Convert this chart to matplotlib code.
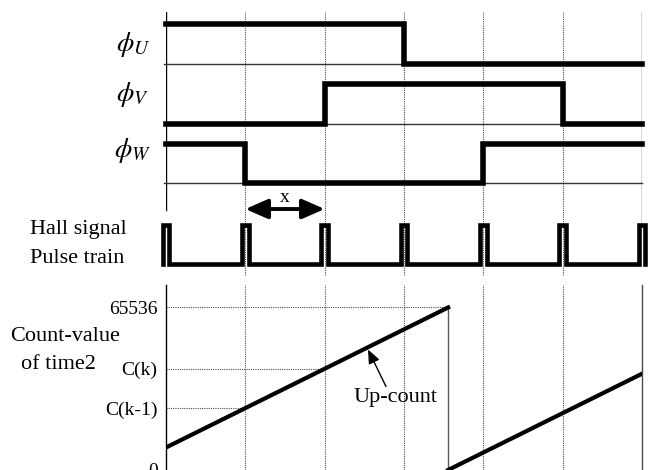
import numpy as np
import matplotlib.pyplot as plt

plt.rcParams['font.family'] = ['Liberation Serif', 'DejaVu Serif']
plt.rcParams['mathtext.fontset'] = 'stix'

# time grid: one unit = one 60-degree sector
sectors = [0, 1, 2, 3, 4, 5, 6]
phase_u = [1, 1, 1, 0, 0, 0]
phase_v = [0, 0, 1, 1, 1, 0]
phase_w = [1, 0, 0, 0, 1, 1]
phase_names = ['$\\phi_U$', '$\\phi_V$', '$\\phi_W$']
lane_low = [2.0, 1.0, 0.0]
high = 0.664
hall_pulses = [0, 1, 2, 3, 4, 5, 6]

# timer2 count
ramp1_t = [0, 3.556]
ramp1_v = [9074, 65536]
ramp2_t = [3.556, 6]
ramp2_v = [0, 38810]
count_ticks = [0, 24952, 40830, 65536]
count_labels = ['0', 'C(k-1)', 'C(k)', '65536']

W, H = 653, 470
def box(x0, y0, x1, y1):
    return [x0 / W, 1 - y1 / H, (x1 - x0) / W, (y1 - y0) / H]

fig = plt.figure(figsize=(W / 100, H / 100), dpi=100)

# ---- phase signals + hall pulse train
ax = fig.add_axes(box(166, 12, 642, 275))
ax.set_xlim(0, 6)
ax.set_ylim(-1.546, 2.874)
ax.axis('off')

dot = dict(color='0.3', lw=0.8, ls=(0, (1, 1)))
for t in sectors[1:-1]:
    ax.plot([t, t], [-1.546, 2.874], zorder=1, clip_on=False, **dot)
ax.plot([0, 0], [-0.454, 2.874], color='k', lw=1)
ax.plot([6, 6], [-0.70, 2.874], color='0.2', lw=1)

for states, low in zip([phase_u, phase_v, phase_w], lane_low):
    ax.plot([-0.03, 6], [low, low], color='0.2', lw=1, clip_on=False)
    y = low + high * np.array(states + [states[-1]])
    ax.step(sectors, y, where='post', color='k', lw=4,
            solid_joinstyle='miter', zorder=3, clip_on=False)

label_y = [2.32, 1.48, 0.55]
for name, yl in zip(phase_names, label_y):
    ax.text(-0.42, yl, name, fontsize=20, ha='center', va='center')

hall_low, hall_high, pw = -1.36, -0.70, 0.042
ht, hy = [], []
for c in hall_pulses:
    ht += [c - pw, c - pw, c + pw, c + pw]
    hy += [hall_low, hall_high, hall_high, hall_low]
ax.plot(ht, hy, color='k', lw=3.3, solid_joinstyle='miter',
        zorder=3, clip_on=False)

ax.annotate('', xy=(1, -0.437), xytext=(2, -0.437),
            arrowprops=dict(arrowstyle='<|-|>,head_length=0.8,head_width=0.35',
                            mutation_scale=17, lw=2.8, color='k',
                            shrinkA=0, shrinkB=0))
ax.text(1.5, -0.25, 'x', fontsize=14, ha='center', va='center')

ax.text(-1.71, -0.86, 'Hall signal', fontsize=16, ha='left', va='baseline')
ax.text(-1.71, -1.35, 'Pulse train', fontsize=16, ha='left', va='baseline')

# ---- counter value
ac = fig.add_axes(box(166, 285, 642, 470))
ac.set_xlim(0, 6)
ac.set_ylim(0, 74600)
for s in ['top', 'bottom']:
    ac.spines[s].set_visible(False)
ac.spines['left'].set_linewidth(1)
ac.spines['right'].set_linewidth(1)
ac.spines['right'].set_color('0.3')
ac.set_xticks([])
ac.set_yticks(count_ticks, count_labels, fontsize=14)
ac.tick_params(axis='y', length=0, pad=6)

for t in sectors[1:-1]:
    ac.plot([t, t], [0, 74600], zorder=1, **dot)
ac.plot([0, ramp1_t[1]], [65536, 65536], zorder=1, **dot)
ac.plot([0, 2], [count_ticks[2], count_ticks[2]], zorder=1, **dot)
ac.plot([0, 1], [count_ticks[1], count_ticks[1]], zorder=1, **dot)

ac.plot(ramp1_t, ramp1_v, color='k', lw=3, zorder=3)
ac.plot([ramp1_t[1], ramp1_t[1]], [0, 65536], color='0.35', lw=1)
ac.plot(ramp2_t, ramp2_v, color='k', lw=3, zorder=3)

ac.annotate('', xy=(2.546, 48598), xytext=(2.773, 33675),
            arrowprops=dict(arrowstyle='-|>,head_length=0.6,head_width=0.25',
                            mutation_scale=14, lw=1, color='k',
                            shrinkA=0, shrinkB=0))
ac.text(2.887, 29240, 'Up-count', fontsize=16, ha='center', va='center')

ac.text(-1.96, 65536 * (470.5 - 342) / 162.5, 'Count-value', fontsize=16,
        ha='left', va='baseline')
ac.text(-1.83, 65536 * (470.5 - 370) / 162.5, 'of time2', fontsize=16,
        ha='left', va='baseline')

fig.savefig('out.png', dpi=100)
